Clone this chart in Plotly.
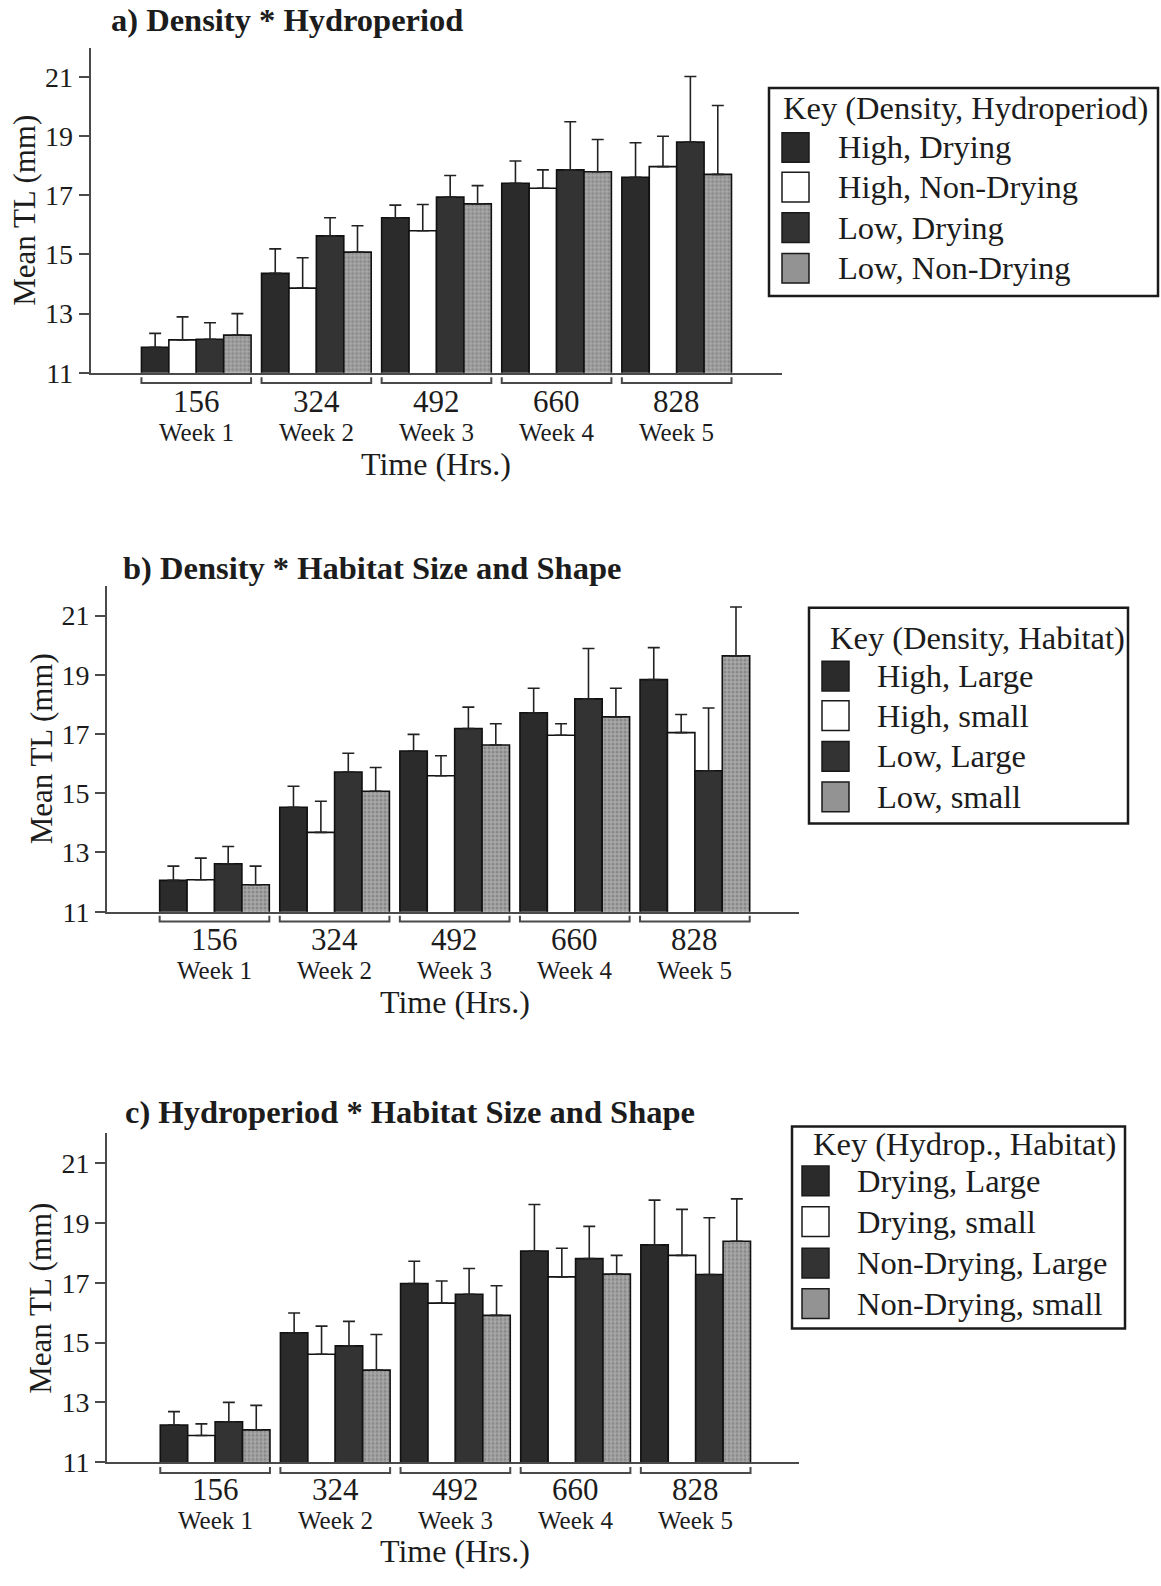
import plotly.graph_objects as go

# ---------------- data ----------------
hours = ["156", "324", "492", "660", "828"]
weeks = ["Week 1", "Week 2", "Week 3", "Week 4", "Week 5"]
y_ticks = [11, 13, 15, 17, 19, 21]

# a) Density * Hydroperiod
a_title = "a) Density * Hydroperiod"
a_key = "Key (Density, Hydroperiod)"
a_names = ["High, Drying", "High, Non-Drying", "Low, Drying", "Low, Non-Drying"]
a_high_drying = [11.86, 14.36, 16.24, 17.41, 17.61]
a_high_drying_se = [0.47, 0.83, 0.43, 0.75, 1.17]
a_high_nondrying = [12.11, 13.86, 15.80, 17.24, 17.97]
a_high_nondrying_se = [0.78, 1.03, 0.89, 0.62, 1.03]
a_low_drying = [12.13, 15.63, 16.94, 17.86, 18.80]
a_low_drying_se = [0.56, 0.61, 0.73, 1.63, 2.22]
a_low_nondrying = [12.27, 15.08, 16.71, 17.80, 17.71]
a_low_nondrying_se = [0.73, 0.89, 0.62, 1.09, 2.33]

# b) Density * Habitat Size and Shape
b_title = "b) Density * Habitat Size and Shape"
b_key = "Key (Density, Habitat)"
b_names = ["High, Large", "High, small", "Low, Large", "Low, small"]
b_high_large = [12.06, 14.53, 16.43, 17.72, 18.84]
b_high_large_se = [0.48, 0.71, 0.56, 0.83, 1.08]
b_high_small = [12.08, 13.68, 15.59, 16.96, 17.05]
b_high_small_se = [0.73, 1.05, 0.68, 0.39, 0.61]
b_low_large = [12.62, 15.72, 17.19, 18.19, 15.76]
b_low_large_se = [0.58, 0.63, 0.72, 1.70, 2.12]
b_low_small = [11.91, 15.07, 16.63, 17.58, 19.64]
b_low_small_se = [0.63, 0.80, 0.72, 0.97, 1.65]

# c) Hydroperiod * Habitat Size and Shape
c_title = "c) Hydroperiod * Habitat Size and Shape"
c_key = "Key (Hydrop., Habitat)"
c_names = ["Drying, Large", "Drying, small", "Non-Drying, Large", "Non-Drying, small"]
c_drying_large = [12.24, 15.33, 16.98, 18.06, 18.27]
c_drying_large_se = [0.45, 0.66, 0.74, 1.56, 1.50]
c_drying_small = [11.89, 14.61, 16.32, 17.20, 17.92]
c_drying_small_se = [0.39, 0.94, 0.74, 0.96, 1.54]
c_nondrying_large = [12.35, 14.89, 16.62, 17.81, 17.28]
c_nondrying_large_se = [0.65, 0.82, 0.86, 1.08, 1.90]
c_nondrying_small = [12.08, 14.08, 15.91, 17.29, 18.39]
c_nondrying_small_se = [0.82, 1.19, 0.99, 0.63, 1.42]

# ---------------- styling / layout ----------------
W, H = 1161, 1586
FONT = "Liberation Serif"
INK = "#1c1c1c"
AX = "#4a4a4a"


def px_y(p):
    return 1 - p / H


def px_x(p):
    return p / W


series_styles = [
    dict(color="#2b2b2b"),
    dict(color="#ffffff"),
    dict(color="#333333"),
    dict(color="#9e9e9e", pattern=dict(shape=".", fgcolor="#686868", bgcolor="#a8a8a8",
                                        size=4, solidity=0.45, fillmode="overlay")),
]
swatch_fill = ["#2b2b2b", "#ffffff", "#333333", "#939393"]

panels = [
    dict(title=a_title, key=a_key, names=a_names,
         vals=[a_high_drying, a_high_nondrying, a_low_drying, a_low_nondrying],
         errs=[a_high_drying_se, a_high_nondrying_se, a_low_drying_se, a_low_nondrying_se],
         xdom=(90.7, 782), ybot=376.5, ytop=48, xr=(-0.879, 4.877),
         title_xy=(109, 20), ylab_xy=(25, 213),
         br=(381, 387), hrs_y=406, wk_y=437, time_y=469,
         box=(769, 1158, 89, 299), key_xy=(781, 109), item_x=836,
         rows=[149, 189, 230, 271], sw_x=782),
    dict(title=b_title, key=b_key, names=b_names,
         vals=[b_high_large, b_high_small, b_low_large, b_low_small],
         errs=[b_high_large_se, b_high_small_se, b_low_large_se, b_low_small_se],
         xdom=(107, 799), ybot=921, ytop=592, xr=(-0.895, 4.867),
         title_xy=(121, 574), ylab_xy=(41, 757),
         br=(925, 931), hrs_y=949, wk_y=980, time_y=1012,
         box=(809, 1128, 614, 832), key_xy=(828, 644), item_x=875,
         rows=[683, 723, 764, 805], sw_x=822),
    dict(title=c_title, key=c_key, names=c_names,
         vals=[c_drying_large, c_drying_small, c_nondrying_large, c_nondrying_small],
         errs=[c_drying_large_se, c_drying_small_se, c_nondrying_large_se, c_nondrying_small_se],
         xdom=(107, 799), ybot=1477, ytop=1145, xr=(-0.9, 4.86),
         title_xy=(123, 1123), ylab_xy=(41, 1312),
         br=(1482, 1488), hrs_y=1505, wk_y=1536, time_y=1567,
         box=(792, 1125, 1138, 1342), key_xy=(811, 1156), item_x=855,
         rows=[1193, 1234, 1276, 1317], sw_x=802),
]

fig = go.Figure()
annotations = []
shapes = []
xi = list(range(len(hours)))
BAR_GAP = 0.087
half = (1 - BAR_GAP) / 2

for k, p in enumerate(panels):
    sfx = "" if k == 0 else str(k + 1)
    xa, ya = "x" + sfx, "y" + sfx
    for j in range(4):
        fig.add_trace(go.Bar(
            x=xi, y=p["vals"][j], name=p["names"][j], xaxis=xa, yaxis=ya,
            offsetgroup=str(j), showlegend=False,
            marker=dict(**series_styles[j], line=dict(color="#111111", width=1.6)),
            error_y=dict(type="data", array=p["errs"][j], symmetric=False,
                         arrayminus=[0] * len(xi), color="#222222",
                         thickness=1.6, width=6),
        ))
    axx = dict(domain=[px_x(p["xdom"][0]), px_x(p["xdom"][1])], range=list(p["xr"]),
               showline=True, linecolor=AX, linewidth=2, showgrid=False, zeroline=False,
               ticks="", showticklabels=False, anchor=ya, fixedrange=True)
    axy = dict(domain=[px_y(p["ybot"]), px_y(p["ytop"])], range=[11, 22],
               showline=True, linecolor=AX, linewidth=2, showgrid=False, zeroline=False,
               ticks="outside", ticklen=10, tickwidth=1.6, tickcolor=AX,
               tickvals=y_ticks, ticktext=[str(v) for v in y_ticks],
               tickfont=dict(family=FONT, size=28, color=INK), anchor=xa, fixedrange=True)
    fig.update_layout(**{"xaxis" + sfx: axx, "yaxis" + sfx: axy})

    # group brackets, hour labels, week labels
    for i, (h, w) in enumerate(zip(hours, weeks)):
        x0, x1 = i - half, i + half
        t, b = px_y(p["br"][0]), px_y(p["br"][1])
        shapes.append(dict(type="path", xref=xa, yref="paper",
                           path=f"M {x0},{t} L {x0},{b} L {x1},{b} L {x1},{t}",
                           line=dict(color=AX, width=2)))
        annotations.append(dict(x=i, y=px_y(p["hrs_y"]), xref=xa, yref="paper", text=h,
                                showarrow=False, xanchor="center", yanchor="middle",
                                font=dict(family=FONT, size=31, color=INK)))
        annotations.append(dict(x=i, y=px_y(p["wk_y"]), xref=xa, yref="paper", text=w,
                                showarrow=False, xanchor="center", yanchor="middle",
                                font=dict(family=FONT, size=25, color=INK)))
    annotations.append(dict(x=2, y=px_y(p["time_y"]), xref=xa, yref="paper", text="Time (Hrs.)",
                            showarrow=False, xanchor="center", yanchor="middle",
                            font=dict(family=FONT, size=32, color=INK)))
    # panel title
    annotations.append(dict(x=px_x(p["title_xy"][0]), y=px_y(p["title_xy"][1]), xref="paper",
                            yref="paper", text="<b>" + p["title"] + "</b>", showarrow=False,
                            xanchor="left", yanchor="middle",
                            font=dict(family=FONT, size=32.5, color=INK)))
    # y axis title
    annotations.append(dict(x=px_x(p["ylab_xy"][0]), y=px_y(p["ylab_xy"][1]), xref="paper",
                            yref="paper", text="Mean TL (mm)", textangle=-90, showarrow=False,
                            xanchor="center", yanchor="middle",
                            font=dict(family=FONT, size=31, color=INK)))
    # key box
    bx0, bx1, by0, by1 = p["box"]
    shapes.append(dict(type="rect", xref="paper", yref="paper",
                       x0=px_x(bx0), x1=px_x(bx1), y0=px_y(by1), y1=px_y(by0),
                       line=dict(color="#1a1a1a", width=2.5), fillcolor="white"))
    annotations.append(dict(x=px_x(p["key_xy"][0]), y=px_y(p["key_xy"][1]), xref="paper",
                            yref="paper", text=p["key"], showarrow=False,
                            xanchor="left", yanchor="middle",
                            font=dict(family=FONT, size=32.5, color=INK)))
    for j, nm in enumerate(p["names"]):
        ry = p["rows"][j]
        shapes.append(dict(type="rect", xref="paper", yref="paper",
                           x0=px_x(p["sw_x"]), x1=px_x(p["sw_x"] + 27),
                           y0=px_y(ry + 15), y1=px_y(ry - 15),
                           line=dict(color="#1a1a1a", width=1.5), fillcolor=swatch_fill[j]))
        annotations.append(dict(x=px_x(p["item_x"]), y=px_y(ry), xref="paper", yref="paper",
                                text=nm, showarrow=False, xanchor="left", yanchor="middle",
                                font=dict(family=FONT, size=32.5, color=INK)))

fig.update_layout(
    width=W, height=H, margin=dict(l=0, r=0, t=0, b=0),
    paper_bgcolor="white", plot_bgcolor="white",
    barmode="group", bargap=BAR_GAP, bargroupgap=0,
    showlegend=False, annotations=annotations, shapes=shapes,
    font=dict(family=FONT, color=INK),
)

fig.write_html("out.html", config={"displayModeBar": False},
               post_script="document.body.style.margin='0';document.body.style.overflow='hidden';")
